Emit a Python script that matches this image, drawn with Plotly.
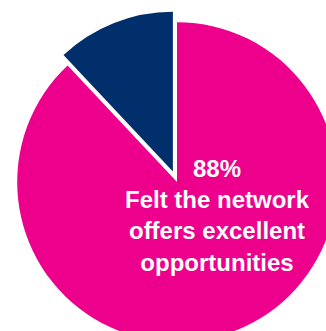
import plotly.graph_objects as go

# Survey result: share who felt the network offers excellent opportunities
labels = ["Felt the network offers excellent opportunities", "Other responses"]
values = [88, 12]
colors = ["#EC008C", "#002F6C"]
pulls = [0, 0.07]

# Canvas is a bit larger than the viewport so the pie bleeds off the right/bottom edges
W, H = 348, 353
ML, MT = 6, 11
plot_w, plot_h = W - ML, H - MT

fig = go.Figure(
    go.Pie(
        labels=labels,
        values=values,
        marker=dict(colors=colors, line=dict(color="white", width=0)),
        pull=pulls,
        sort=False,
        direction="clockwise",
        rotation=0,
        textinfo="none",
        hoverinfo="skip",
        domain=dict(x=[0, 1], y=[0, 1]),
    )
)

# Callout inside the large slice, built from the slice value
callout = f"{values[0]}%<br>Felt the network<br>offers excellent<br>opportunities"
fig.add_annotation(
    text=callout,
    x=(217 - ML) / plot_w,
    y=1 - (215 - MT) / plot_h,
    xref="paper",
    yref="paper",
    xanchor="center",
    yanchor="middle",
    showarrow=False,
    align="center",
    font=dict(family="Liberation Sans, Arial, sans-serif", size=24, color="white", weight="bold"),
)

fig.update_layout(
    width=W,
    height=H,
    margin=dict(l=ML, r=0, t=MT, b=0, pad=0),
    paper_bgcolor="white",
    plot_bgcolor="white",
    showlegend=False,
)

fig.write_html(
    "out.html",
    config={"displayModeBar": False},
    post_script="document.body.style.margin='0';document.body.style.overflow='hidden';",
)
